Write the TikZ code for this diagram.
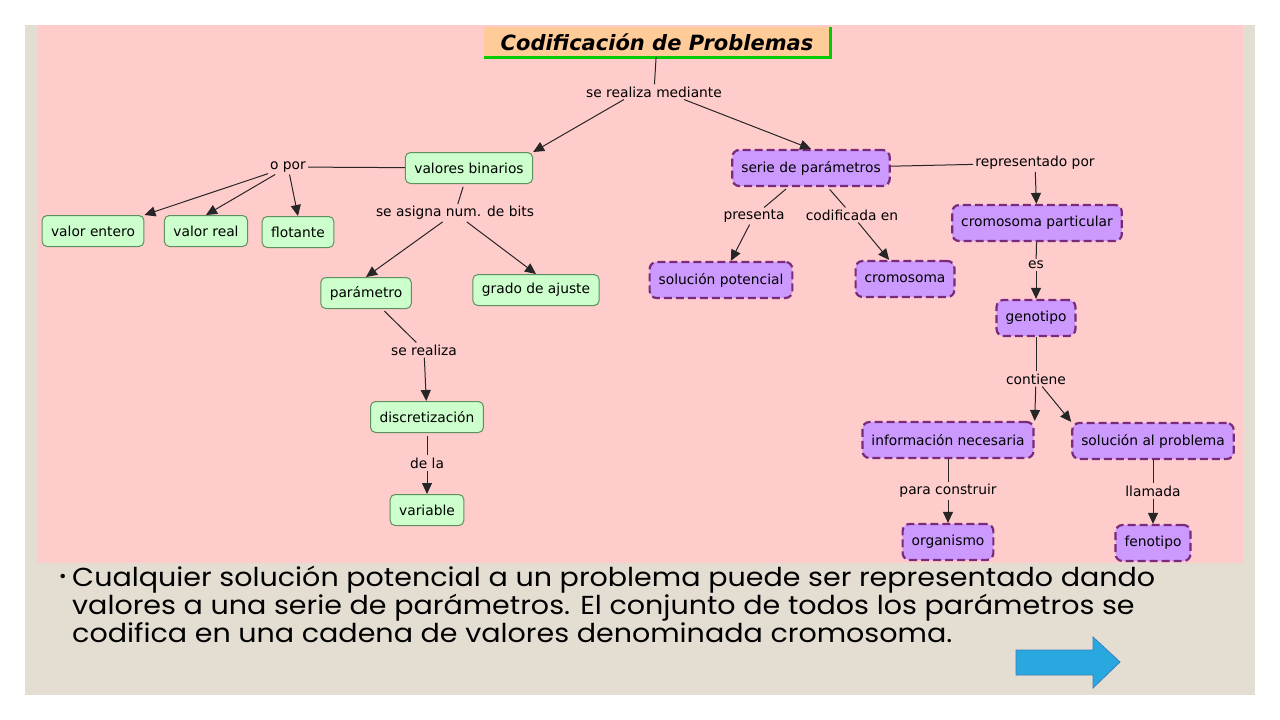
\documentclass[tikz,border=0pt]{standalone}
\usepackage{fontspec}
\setmainfont{DejaVu Sans}
\newfontfamily\bulletfont{Poppins}
\usetikzlibrary{arrows.meta}
\definecolor{slide}{HTML}{E4DDD2}
\definecolor{pinkbg}{HTML}{FFCCCC}
\definecolor{gfill}{HTML}{CCFFCC}
\definecolor{gline}{HTML}{5E8F5E}
\definecolor{pfill}{HTML}{CC99FF}
\definecolor{pline}{HTML}{7A2A7A}
\definecolor{tfill}{HTML}{FFCC99}
\definecolor{arrowblue}{HTML}{29A8E0}
\definecolor{arrowedge}{HTML}{3A7FBF}
\begin{document}
\begin{tikzpicture}[x=1pt,y=-1pt,
  gbox/.style={draw=gline,fill=gfill,rounded corners=5,line width=1,font=\fontsize{13.8}{16}\selectfont,inner xsep=9,minimum height=31},
  pbox/.style={draw=pline,fill=pfill,rounded corners=7,line width=2.2,dash pattern=on 8 off 4,font=\fontsize{13.8}{16}\selectfont,inner xsep=9,minimum height=36},
  lab/.style={font=\fontsize{13.8}{16}\selectfont,inner sep=2,fill=pinkbg},
  ln/.style={draw=black!85,line width=1},
  ar/.style={draw=black!85,line width=1,-{Triangle[length=11,width=10]}}]
\useasboundingbox (0,0) rectangle (1280,720);
\fill[white] (0,0) rectangle (1280,720);
\fill[slide] (25,25) rectangle (1255,695);
\fill[pinkbg] (37,25) rectangle (1243,563);
% title
\node[fill=tfill,font=\fontsize{21}{24}\selectfont\bfseries\itshape,minimum width=346,minimum height=30,inner sep=0] (t) at (657,42) {Codificación de Problemas};
\draw[green!80!black,line width=3] (t.north east) -- (t.south east) -- (t.south west);
\node[lab] (srm) at (654,92) {se realiza mediante};
\node[gbox] (vb) at (469,168) {valores binarios};
\node[pbox] (sp) at (811,168) {serie de parámetros};
\node[lab] (op) at (288,167) {o por};
\node[gbox] (ve) at (93,231) {valor entero};
\node[gbox] (vr) at (206,231) {valor real};
\node[gbox] (fl) at (298,232) {flotante};
\node[lab] (sa) at (455,213) {se asigna num. de bits};
\node[gbox] (pa) at (366,293) {parámetro};
\node[gbox] (ga) at (536,290) {grado de ajuste};
\node[lab] (sr) at (424,350) {se realiza};
\node[gbox] (di) at (427,417) {discretización};
\node[lab] (dl) at (427,463) {de la};
\node[gbox] (va) at (427,510) {variable};
\node[lab] (pr) at (754,216) {presenta};
\node[lab] (ce) at (852,215) {codificada en};
\node[pbox] (so) at (721,280) {solución potencial};
\node[pbox] (cr) at (905,279) {cromosoma};
\node[lab] (rp) at (1035,163) {representado por};
\node[pbox] (cp) at (1037,223) {cromosoma particular};
\node[lab] (es) at (1036,265) {es};
\node[pbox] (ge) at (1036,318) {genotipo};
\node[lab] (co) at (1036,379) {contiene};
\node[pbox] (in) at (948,440) {información necesaria};
\node[pbox] (sl) at (1153,441) {solución al problema};
\node[lab] (pc) at (948,491) {para construir};
\node[lab] (ll) at (1153,491) {llamada};
\node[pbox] (or) at (948,542) {organismo};
\node[pbox] (fe) at (1153,543) {fenotipo};
% edges
\draw[ln] (t) -- (srm);
\draw[ar] (srm.south west) ++(40,0) -- (vb.north east);
\draw[ar] (srm.south east) ++(-40,0) -- (sp.north);
\draw[ln] (vb) -- (op);
\draw[ar] (op) -- (ve.north east);
\draw[ar] (op) -- (vr.north);
\draw[ar] (op) -- (fl.north);
\draw[ln,shorten <=3] (vb) -- (sa);
\draw[ar] (sa) -- (pa.north);
\draw[ar] (sa) -- (ga.north);
\draw[ln,shorten <=3] (pa) -- (sr);
\draw[ar] (sr) -- (di);
\draw[ln,shorten <=3] (di) -- (dl);
\draw[ar] (dl) -- (va);
\draw[ln,shorten <=3] (sp) -- (pr);
\draw[ar] (pr) -- (so);
\draw[ln,shorten <=3] (sp) -- (ce);
\draw[ar] (ce) -- (cr);
\draw[ln] (sp) -- (rp);
\draw[ar] (rp) -- (cp);
\draw[ln] (cp) -- (es);
\draw[ar] (es) -- (ge);
\draw[ln] (ge) -- (co);
\draw[ar] (co) -- (in.north east);
\draw[ar] (co) -- (sl.north west);
\draw[ln] (in) -- (pc);
\draw[ar] (pc) -- (or);
\draw[ln] (sl) -- (ll);
\draw[ar] (ll) -- (fe);
% bullet text
\node[anchor=north west,align=left,inner sep=0,font=\bulletfont\fontsize{26}{25}\selectfont,transform shape,xscale=1.098] (bt) at (72,566)
{Cualquier solución potencial a un problema puede ser representado dando\\ valores a una serie de parámetros. El conjunto de todos los parámetros se\\ codifica en una cadena de valores denominada cromosoma.};
\node[font=\bulletfont\fontsize{18}{20}\selectfont,anchor=east] (bu) at (70,578) {•};
% blue arrow
\draw[fill=arrowblue,draw=arrowedge,line width=0.8] (1016,650) -- (1093,650) -- (1093,637) -- (1120,662) -- (1093,688) -- (1093,675) -- (1016,675) -- cycle;
\end{tikzpicture}
\end{document}
